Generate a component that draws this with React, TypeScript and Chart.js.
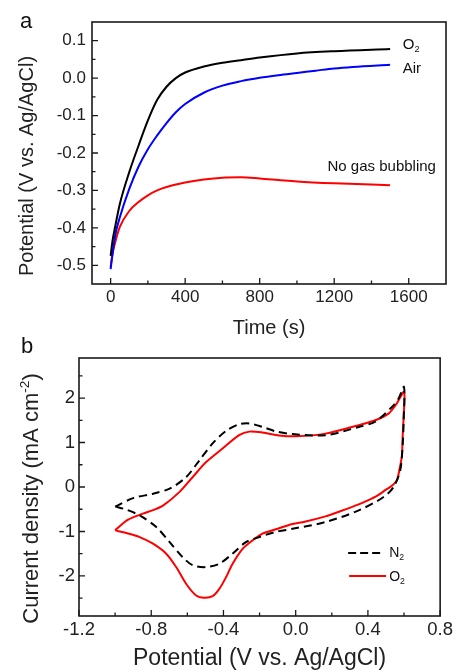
import { useEffect, useRef } from "react";
import { Chart, registerables } from "chart.js";

Chart.register(...registerables);

const FONT = "'Liberation Sans', Arial, Helvetica, sans-serif";
const INK = "#1a1a1a";

// ---------- Panel a: potential vs time ----------
const o2Time = [0, 10, 25, 50, 100, 150, 200, 250, 300, 350, 400, 500, 600, 700, 800, 1000, 1200, 1500];
const o2Potential = [-0.475, -0.435, -0.395, -0.335, -0.251, -0.18, -0.113, -0.058, -0.023, 0.0, 0.015, 0.031, 0.041, 0.048, 0.055, 0.066, 0.072, 0.0777];

const airTime = [0, 10, 25, 50, 100, 150, 200, 250, 300, 350, 400, 500, 600, 700, 800, 900, 1000, 1100, 1200, 1300, 1500];
const airPotential = [-0.51, -0.47, -0.419, -0.371, -0.296, -0.236, -0.19, -0.153, -0.12, -0.091, -0.069, -0.039, -0.02, -0.008, 0.001, 0.008, 0.014, 0.02, 0.026, 0.03, 0.0356];

const noGasTime = [0, 10, 25, 50, 100, 150, 200, 250, 300, 400, 500, 600, 700, 800, 900, 1000, 1200, 1500];
const noGasPotential = [-0.505, -0.47, -0.438, -0.397, -0.355, -0.331, -0.313, -0.3, -0.291, -0.279, -0.271, -0.266, -0.265, -0.268, -0.272, -0.276, -0.281, -0.286];

const timeTicks = [0, 400, 800, 1200, 1600];
const timeMinorTicks = [200, 600, 1000, 1400];
const potentialTicks = [-0.5, -0.4, -0.3, -0.2, -0.1, 0, 0.1];
const potentialMinorTicks = [-0.45, -0.35, -0.25, -0.15, -0.05, 0.05];

// ---------- Panel b: cyclic voltammograms ----------
const n2Potential = [
  -1.0, -0.9, -0.79, -0.698, -0.606, -0.533, -0.46, -0.386, -0.313, -0.257, -0.184, -0.11, -0.018, 0.165, 0.349, 0.441, 0.533, 0.57, 0.6,
  0.598, 0.593, 0.579, 0.542, 0.487, 0.349, 0.165, -0.018, -0.11, -0.202, -0.276, -0.35, -0.423, -0.496, -0.57, -0.625, -0.698, -0.772, -0.864, -0.937, -1.0,
];
const n2Current = [
  -0.44, -0.25, -0.15, -0.037, 0.225, 0.6, 0.98, 1.26, 1.41, 1.43, 1.35, 1.25, 1.19, 1.164, 1.35, 1.47, 1.8, 1.99, 2.25,
  1.5, 0.98, 0.376, 0.0, -0.225, -0.525, -0.788, -0.94, -1.01, -1.126, -1.24, -1.5, -1.725, -1.8, -1.76, -1.58, -1.24, -0.9, -0.64, -0.51, -0.44,
];

const o2CvPotential = [
  -1.0, -0.928, -0.846, -0.79, -0.735, -0.643, -0.57, -0.496, -0.405, -0.313, -0.257, -0.184, -0.092, 0, 0.165, 0.349, 0.441, 0.514, 0.56, 0.6,
  0.598, 0.593, 0.588, 0.575, 0.56, 0.533, 0.5, 0.45, 0.4, 0.349, 0.25, 0.165, 0.05, -0.018, -0.11, -0.184, -0.239, -0.294, -0.35, -0.386, -0.423, -0.46, -0.506, -0.551, -0.606, -0.662, -0.717, -0.79, -0.864, -0.937, -1.0,
];
const o2CvCurrent = [
  -0.97, -0.735, -0.6, -0.52, -0.42, -0.11, 0.225, 0.56, 0.865, 1.165, 1.245, 1.225, 1.16, 1.14, 1.2, 1.39, 1.5, 1.65, 1.88, 2.14,
  1.6, 1.2, 0.7, 0.4, 0.15, 0.03, -0.06, -0.2, -0.3, -0.39, -0.54, -0.66, -0.78, -0.83, -0.95, -1.05, -1.2, -1.39, -1.73, -2.03, -2.29, -2.455, -2.49, -2.44, -2.18, -1.8, -1.5, -1.275, -1.126, -1.036, -0.975,
];

const cvXTicks = [-1.2, -0.8, -0.4, 0, 0.4, 0.8];
const cvXMinorTicks = [-1.0, -0.6, -0.2, 0.2, 0.6];
const cvYTicks = [-2, -1, 0, 1, 2];
const cvYMinorTicks = [-2.5, -1.5, -0.5, 0.5, 1.5, 2.5];

type Part = { t: string; sub?: boolean; sup?: boolean };

const toPoints = (xs: number[], ys: number[]) => xs.map((x, i) => ({ x, y: ys[i] }));

function drawRich(ctx: CanvasRenderingContext2D, parts: Part[], x: number, y: number, size: number, align: "left" | "center") {
  const sz = (p: Part) => (p.sub || p.sup ? size * 0.62 : size);
  const widths = parts.map((p) => {
    ctx.font = `${sz(p)}px ${FONT}`;
    return ctx.measureText(p.t).width;
  });
  const total = widths.reduce((a, b) => a + b, 0);
  let cx = align === "center" ? x - total / 2 : x;
  ctx.textAlign = "left";
  parts.forEach((p, i) => {
    ctx.font = `${sz(p)}px ${FONT}`;
    const dy = p.sub ? size * 0.3 : p.sup ? -size * 0.4 : 0;
    ctx.fillText(p.t, cx, y + dy);
    cx += widths[i];
  });
}

type FrameCfg = {
  xMajor: number[];
  xMinor: number[];
  yMajor: number[];
  yMinor: number[];
  panel: string;
  panelX: number;
  panelY: number;
  yTitle: { x: number; y: number; size: number; parts: Part[] };
  extra?: (chart: any) => void;
};

function makeFramePlugin(cfg: FrameCfg) {
  return {
    id: "frame" + cfg.panel,
    afterDraw(chart: any) {
      const { ctx, chartArea: ca, scales } = chart;
      ctx.save();
      ctx.strokeStyle = INK;
      ctx.lineWidth = 1.3;
      ctx.beginPath();
      const xt = (v: number, len: number) => {
        const px = scales.x.getPixelForValue(v);
        ctx.moveTo(px, ca.bottom);
        ctx.lineTo(px, ca.bottom - len);
      };
      const yt = (v: number, len: number) => {
        const py = scales.y.getPixelForValue(v);
        ctx.moveTo(ca.left, py);
        ctx.lineTo(ca.left + len, py);
      };
      cfg.xMajor.forEach((v) => xt(v, 6));
      cfg.xMinor.forEach((v) => xt(v, 3.5));
      cfg.yMajor.forEach((v) => yt(v, 6));
      cfg.yMinor.forEach((v) => yt(v, 3.5));
      ctx.stroke();
      ctx.lineWidth = 1.6;
      ctx.strokeRect(ca.left, ca.top, ca.right - ca.left, ca.bottom - ca.top);

      ctx.fillStyle = "#111";
      ctx.textBaseline = "alphabetic";
      ctx.textAlign = "left";
      ctx.font = `22px ${FONT}`;
      ctx.fillText(cfg.panel, cfg.panelX, cfg.panelY);

      ctx.save();
      ctx.fillStyle = "#222";
      ctx.translate(cfg.yTitle.x, cfg.yTitle.y);
      ctx.rotate(-Math.PI / 2);
      drawRich(ctx, cfg.yTitle.parts, 0, 0, cfg.yTitle.size, "center");
      ctx.restore();

      if (cfg.extra) cfg.extra(chart);
      ctx.restore();
    },
  };
}

const curveLabels: { parts: Part[]; x: number; y: number }[] = [
  { parts: [{ t: "O" }, { t: "2", sub: true }], x: 1568, y: 0.089 },
  { parts: [{ t: "Air" }], x: 1568, y: 0.025 },
  { parts: [{ t: "No gas bubbling" }], x: 1164, y: -0.2376 },
];

export default function App() {
  const refA = useRef<HTMLCanvasElement>(null);
  const refB = useRef<HTMLCanvasElement>(null);

  useEffect(() => {
    const lineDs = (data: any, color: string, extra: any = {}) => ({
      data,
      borderColor: color,
      backgroundColor: color,
      showLine: true,
      pointRadius: 0,
      borderWidth: 2,
      fill: false,
      ...extra,
    });

    const tickFont = (size: number) => ({ size, family: FONT });

    const pluginA = makeFramePlugin({
      xMajor: timeTicks,
      xMinor: timeMinorTicks,
      yMajor: potentialTicks,
      yMinor: potentialMinorTicks,
      panel: "a",
      panelX: 20,
      panelY: 28,
      yTitle: { x: 33, y: 166, size: 20, parts: [{ t: "Potential (V vs. Ag/AgCl)" }] },
      extra: (chart: any) => {
        const { ctx, scales } = chart;
        ctx.fillStyle = "#111";
        ctx.textBaseline = "middle";
        curveLabels.forEach((l) => {
          drawRich(ctx, l.parts, scales.x.getPixelForValue(l.x), scales.y.getPixelForValue(l.y), 15, "left");
        });
      },
    });

    const chartA = new Chart(refA.current!, {
      type: "scatter",
      data: {
        datasets: [
          lineDs(toPoints(o2Time, o2Potential), "#000000", { cubicInterpolationMode: "monotone" }),
          lineDs(toPoints(airTime, airPotential), "#0000ff", { cubicInterpolationMode: "monotone" }),
          lineDs(toPoints(noGasTime, noGasPotential), "#ff0000", { cubicInterpolationMode: "monotone" }),
        ],
      },
      options: {
        responsive: false,
        animation: false,
        layout: { padding: { left: 0, right: 10, top: 22, bottom: 0 } },
        plugins: { legend: { display: false }, tooltip: { enabled: false } },
        scales: {
          x: {
            type: "linear",
            min: -100,
            max: 1800,
            afterBuildTicks: (s: any) => {
              s.ticks = timeTicks.map((v) => ({ value: v }));
            },
            afterFit: (s: any) => {
              s.height = 60;
            },
            grid: { display: false, drawTicks: false },
            border: { display: false },
            ticks: {
              font: tickFont(17),
              color: "#222",
              padding: 3,
              maxRotation: 0,
              autoSkip: false,
              callback: (v: any) => String(v),
            },
            title: {
              display: true,
              text: "Time (s)",
              color: "#222",
              font: { size: 20, family: FONT, lineHeight: 1 },
              padding: { top: 0, bottom: 6 },
            },
          },
          y: {
            type: "linear",
            min: -0.55,
            max: 0.15,
            afterBuildTicks: (s: any) => {
              s.ticks = potentialTicks.map((v) => ({ value: v }));
            },
            afterFit: (s: any) => {
              s.width = 92;
            },
            grid: { display: false, drawTicks: false },
            border: { display: false },
            ticks: {
              font: tickFont(17),
              color: "#222",
              padding: 6,
              autoSkip: false,
              callback: (v: any) => Number(v).toFixed(1),
            },
          },
        },
      },
      plugins: [pluginA as any],
    } as any);

    const pluginB = makeFramePlugin({
      xMajor: cvXTicks,
      xMinor: cvXMinorTicks,
      yMajor: cvYTicks,
      yMinor: cvYMinorTicks,
      panel: "b",
      panelX: 21,
      panelY: 17,
      yTitle: {
        x: 38,
        y: 162.5,
        size: 22,
        parts: [{ t: "Current density (mA cm" }, { t: "-2", sup: true }, { t: ")" }],
      },
      extra: (chart: any) => {
        const { ctx, chartArea: ca } = chart;
        const r = ca.right;
        const b = ca.bottom;
        ctx.lineWidth = 2;
        ctx.strokeStyle = "#000000";
        ctx.setLineDash([8, 4]);
        ctx.beginPath();
        ctx.moveTo(r - 92, b - 63);
        ctx.lineTo(r - 60, b - 63);
        ctx.stroke();
        ctx.setLineDash([]);
        ctx.strokeStyle = "#ff0000";
        ctx.beginPath();
        ctx.moveTo(r - 91, b - 40);
        ctx.lineTo(r - 54, b - 40);
        ctx.stroke();
        ctx.fillStyle = "#111";
        ctx.textBaseline = "middle";
        drawRich(ctx, [{ t: "N" }, { t: "2", sub: true }], r - 51, b - 63, 14, "left");
        drawRich(ctx, [{ t: "O" }, { t: "2", sub: true }], r - 51, b - 39, 14, "left");
      },
    });

    const chartB = new Chart(refB.current!, {
      type: "scatter",
      data: {
        datasets: [
          lineDs(toPoints(n2Potential, n2Current), "#000000", { borderDash: [8, 5], tension: 0.3 }),
          lineDs(toPoints(o2CvPotential, o2CvCurrent), "#ff0000", { tension: 0.3 }),
        ],
      },
      options: {
        responsive: false,
        animation: false,
        layout: { padding: { left: 0, right: 14, top: 22, bottom: 0 } },
        plugins: { legend: { display: false }, tooltip: { enabled: false } },
        scales: {
          x: {
            type: "linear",
            min: -1.2,
            max: 0.8,
            afterBuildTicks: (s: any) => {
              s.ticks = cvXTicks.map((v) => ({ value: v }));
            },
            afterFit: (s: any) => {
              s.height = 56;
            },
            grid: { display: false, drawTicks: false },
            border: { display: false },
            ticks: {
              font: tickFont(18.5),
              color: "#222",
              padding: 3,
              maxRotation: 0,
              autoSkip: false,
              callback: (v: any) => Number(v).toFixed(1),
            },
            title: {
              display: true,
              text: "Potential (V vs. Ag/AgCl)",
              color: "#222",
              font: { size: 23, family: FONT, lineHeight: 1 },
              padding: { top: 0, bottom: 1.5 },
            },
          },
          y: {
            type: "linear",
            min: -2.9,
            max: 2.9,
            afterBuildTicks: (s: any) => {
              s.ticks = cvYTicks.map((v) => ({ value: v }));
            },
            afterFit: (s: any) => {
              s.width = 79;
            },
            grid: { display: false, drawTicks: false },
            border: { display: false },
            ticks: {
              font: tickFont(18.5),
              color: "#222",
              padding: 4,
              autoSkip: false,
              callback: (v: any) => String(v),
            },
          },
        },
      },
      plugins: [pluginB as any],
    } as any);

    return () => {
      chartA.destroy();
      chartB.destroy();
    };
  }, []);

  return (
    <div style={{ position: "absolute", left: 0, top: 0, width: 456, height: 672, background: "#fff", overflow: "hidden" }}>
      <canvas ref={refA} width={456} height={344} style={{ position: "absolute", left: 0, top: 0, display: "block" }} />
      <canvas ref={refB} width={456} height={336} style={{ position: "absolute", left: 0, top: 336, display: "block" }} />
    </div>
  );
}
